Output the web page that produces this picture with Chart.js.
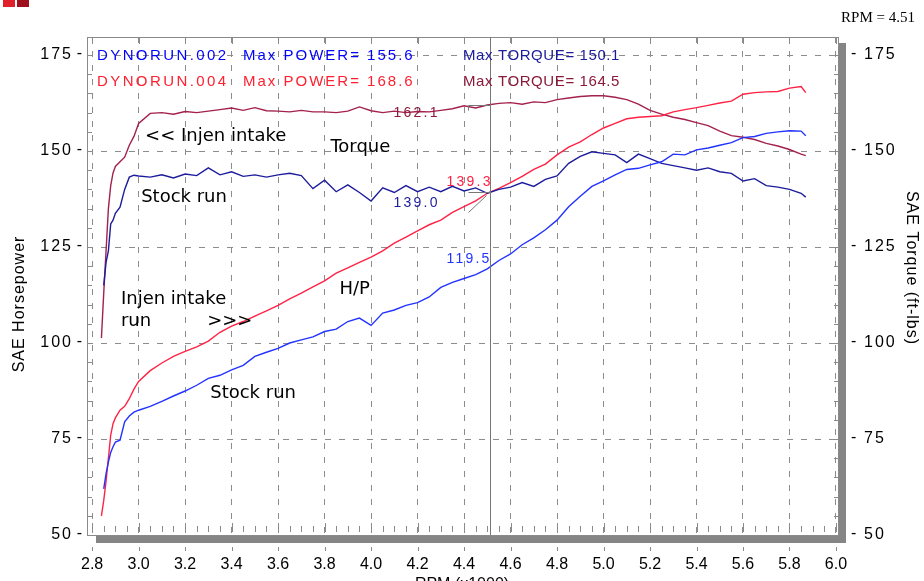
<!DOCTYPE html>
<html>
<head>
<meta charset="utf-8">
<script src="https://cdn.jsdelivr.net/npm/chart.js@4.4.1/dist/chart.umd.min.js"></script>
<style>
html,body{margin:0;padding:0;background:#fff;}
#wrap{width:924px;height:581px;}
</style>
</head>
<body>
<div id="wrap"><canvas id="dyno" width="924" height="581"></canvas></div>
<script>
'use strict';
// rpm x1000
let rpm = [2.84,2.85,2.86,2.87,2.88,2.89,2.90,2.92,2.94,2.96,2.98,
    3.00,3.05,3.10,3.15,3.20,3.25,3.30,3.35,3.40,3.45,3.50,3.55,3.60,3.65,3.70,3.75,3.80,3.85,3.90,3.95,
    4.00,4.05,4.10,4.15,4.20,4.25,4.30,4.35,4.40,4.45,4.50,4.55,4.60,4.65,4.70,4.75,4.80,4.85,4.90,4.95,
    5.00,5.05,5.10,5.15,5.20,5.25,5.30,5.35,5.40,5.45,5.50,5.55,5.60,5.65,5.70,5.75,5.80,5.85,5.87];

// DYNORUN.002 stock run
let stockHp = [null,62,66,69,71.5,73,74.2,74.7,79.5,81,82,
    82.5,83.5,84.8,86.2,87.5,89,90.8,91.6,93,94.2,96.5,97.6,98.6,100,100.8,101.6,103,103.6,105.6,106.5,
    104.6,107.8,108.6,109.8,110.5,112,114.5,115.8,116.8,117.8,119.3,121.5,123.2,125.6,127.4,129.5,132,135.5,138.2,140.8,
    142.2,143.8,145.2,145.5,146.4,147.2,149.2,149,150.3,150.8,151.5,152.2,153.5,153.8,154.6,155,155.3,155.2,154];
let stockTq = [null,115,121,124,131,132,133.8,135.4,140,143.2,143.7,
    143.5,143.2,143.8,143,144,143.6,145.6,143.8,144.6,143.4,143.8,143.2,143.8,144.2,143.6,140.2,142.4,139.4,141.2,139.2,
    137,140.4,139.2,141,139.4,140.6,139.4,140.8,139.6,140.4,139,140,140.6,141.8,140.8,142.6,143.5,146.8,148.6,149.8,
    149.4,149,147,149.2,148,146.8,146.2,145.6,145,145.6,144.6,144.2,142.2,142.8,141,140.6,140,139,138];

// DYNORUN.004 injen intake
let injenHp = [55,59,64,70,76,79,80.5,82.5,83.5,85.5,88,
    90,92.8,94.8,96.5,97.8,99,100.5,102.8,104.4,105.6,107,108.4,109.8,111.5,113,114.6,116.2,118.2,119.6,121,
    122.4,124,126,127.6,129.2,130.8,132,134,135.5,137,139,140.3,141.8,143.4,145.2,146.6,149,151,152.4,154.3,
    156,157.2,158.4,158.8,159,159.2,160.2,160.8,161.3,161.9,162.5,163,164.8,165.2,165.4,165.5,166.4,166.8,165.2];
let injenTq = [101.3,113,124,135,141,144.3,146,147.2,148.4,151.5,153.8,
    157.2,159.8,160,159.6,160.3,160,160.4,160.8,161.2,160.6,161.3,160.5,160.4,160.2,160.6,160.2,160.2,160,160.4,161.5,
    160.5,160,160.4,160,160.3,160.2,160.6,161,161.8,161.2,162,162.4,162.6,162.2,162.8,162.6,163.4,163.8,164.2,164.4,
    164.4,164,163.4,162.2,160.6,159.6,158.8,158.2,157.4,156.6,155.2,154,153.6,153,152,151.3,150.4,149.2,148.8];

let rpmTicks = [2.8,3.0,3.2,3.4,3.6,3.8,4.0,4.2,4.4,4.6,4.8,5.0,5.2,5.4,5.6,5.8,6.0];
let valueTicks = [50,75,100,125,150,175];
let cursorRpm = 4.51;
let cursorTq = 162.1;
let cursorHp = 139.3;

// text notes placed on the chart (rpm, value)
let notes = [
    ['<< Injen intake', 3.028, 153.9, '#000', 'big'],
    ['Torque', 3.825, 151, '#000', 'big'],
    ['Stock run', 3.011, 138, '#000', 'big'],
    ['Injen intake', 2.924, 111.5, '#000', 'big'],
    ['run', 2.924, 105.7, '#000', 'big'],
    ['>>>', 3.295, 105.7, '#000', 'big'],
    ['H/P', 3.864, 114.1, '#000', 'big'],
    ['Stock run', 3.308, 87, '#000', 'big'],
    ['162.1', 4.097, 159.9, '#8b1a3a', 'num'],
    ['139.0', 4.097, 136.5, '#1c1c9c', 'num'],
    ['139.3', 4.325, 141.9, '#ff2040', 'num'],
    ['119.5', 4.325, 121.9, '#2233ff', 'num']
];

function pts(ys) {
    let out = [];
    for (let i = 0; i < rpm.length; i++) {
        if (ys[i] !== null) out.push({x: rpm[i], y: ys[i]});
    }
    return out;
}

const SANS = '"Liberation Sans", Arial, sans-serif';

let dynoDecor = {
    id: 'dynoDecor',
    beforeDraw(chart) {
        let ctx = chart.ctx;
        ctx.save();
        ctx.fillStyle = '#fff';
        ctx.fillRect(0, 0, chart.width, chart.height);
        ctx.restore();
    },
    afterDraw(chart) {
        let ctx = chart.ctx;
        let a = chart.chartArea;
        let xs = chart.scales.x, ys = chart.scales.y, ys1 = chart.scales.y1;
        ctx.save();
        // shadow
        ctx.fillStyle = '#858585';
        ctx.fillRect(a.right, a.top + 6, 7, a.bottom - a.top + 2);
        ctx.fillRect(a.left + 9, a.bottom + 1, a.right - a.left - 2, 7);
        // frame
        ctx.strokeStyle = '#8a8a8a';
        ctx.lineWidth = 1;
        ctx.strokeRect(a.left + 0.5, a.top + 0.5, a.right - a.left - 1, a.bottom - a.top);
        // minor ticks
        ctx.beginPath();
        for (let v = 2.8; v <= 6.0001; v += 0.05) {
            let px = Math.round(xs.getPixelForValue(v)) + 0.5;
            let major = Math.abs(v * 5 - Math.round(v * 5)) < 0.01;
            ctx.moveTo(px, a.bottom - 3); ctx.lineTo(px, a.bottom - 3 - (major ? 9 : 6));
            if (major) {
                ctx.moveTo(px, a.top); ctx.lineTo(px, a.top + 7);
                ctx.moveTo(px, a.bottom + 12); ctx.lineTo(px, a.bottom + 16);
            }
        }
        for (let v = 55; v <= 175; v += 5) {
            let py = Math.round(ys.getPixelForValue(v)) + 0.5;
            ctx.moveTo(a.left, py); ctx.lineTo(a.left + 5, py);
            ctx.moveTo(a.right - 5, py); ctx.lineTo(a.right, py);
        }
        ctx.stroke();
        // cursor and readout markers
        let cx = Math.round(xs.getPixelForValue(cursorRpm)) + 0.5;
        let tx = Math.round(xs.getPixelForValue(cursorRpm - 0.095)) + 0.5;
        ctx.strokeStyle = '#777';
        ctx.beginPath();
        ctx.moveTo(cx, a.top); ctx.lineTo(cx, a.bottom);
        let ty = Math.round(ys1.getPixelForValue(cursorTq)) + 0.5;
        ctx.moveTo(tx, ty + 5); ctx.lineTo(tx, ty); ctx.lineTo(cx, ty);
        let hy = Math.round(ys.getPixelForValue(cursorHp)) + 0.5;
        ctx.moveTo(tx, hy); ctx.lineTo(cx, hy);
        ctx.moveTo(tx, hy + 20); ctx.lineTo(cx - 4, hy + 3);
        ctx.stroke();
        // y tick labels
        ctx.fillStyle = '#000';
        ctx.font = '16px ' + SANS;
        ctx.textBaseline = 'middle';
        ctx.letterSpacing = '2px';
        ys.ticks.forEach(t => {
            let py = ys.getPixelForValue(t.value);
            ctx.textAlign = 'right';
            ctx.fillText(String(t.value), 73, py);
            ctx.fillText('-', 84, py - 1);
        });
        ys1.ticks.forEach(t => {
            let py = ys1.getPixelForValue(t.value);
            ctx.textAlign = 'left';
            ctx.fillText('-', 851, py - 1);
            ctx.fillText(String(t.value), 864, py);
        });
        // axis titles
        ctx.letterSpacing = '1px';
        ctx.textAlign = 'center';
        ctx.save();
        ctx.translate(20, 304);
        ctx.rotate(-Math.PI / 2);
        ctx.fillText('SAE Horsepower', 0, 0);
        ctx.restore();
        ctx.save();
        ctx.translate(911, 268);
        ctx.rotate(Math.PI / 2);
        ctx.fillText('SAE Torque (ft-lbs)', 0, 0);
        ctx.restore();
        ctx.letterSpacing = '0px';
        ctx.textBaseline = 'top';
        ctx.fillText('RPM (x1000)', 462, 577);
        // legend
        ctx.textBaseline = 'middle';
        ctx.textAlign = 'left';
        ctx.font = '15px ' + SANS;
        let l1 = a.top + 19, l2 = a.top + 45;
        ctx.letterSpacing = '2.4px';
        ctx.fillStyle = '#0000ff';
        ctx.fillText('DYNORUN.002', 97, l1);
        ctx.fillStyle = '#ff2030';
        ctx.fillText('DYNORUN.004', 97, l2);
        ctx.letterSpacing = '2px';
        ctx.fillStyle = '#0000ff';
        ctx.fillText('Max POWER= 155.6', 243, l1);
        ctx.fillStyle = '#ff2030';
        ctx.fillText('Max POWER= 168.6', 243, l2);
        ctx.letterSpacing = '0.6px';
        ctx.fillStyle = '#1c1c9c';
        ctx.fillText('Max TORQUE= 150.1', 463, l1);
        ctx.fillStyle = '#8b1a3a';
        ctx.fillText('Max TORQUE= 164.5', 463, l2);
        // notes
        notes.forEach(n => {
            ctx.fillStyle = n[3];
            if (n[4] === 'big') {
                ctx.font = '18px "DejaVu Sans", Verdana, sans-serif';
                ctx.letterSpacing = '0px';
            } else {
                ctx.font = '14px ' + SANS;
                ctx.letterSpacing = '2.2px';
            }
            ctx.fillText(n[0], xs.getPixelForValue(n[1]), ys.getPixelForValue(n[2]));
        });
        ctx.letterSpacing = '0px';
        // top right readout
        ctx.fillStyle = '#000';
        ctx.font = '15px "Liberation Serif", "Times New Roman", serif';
        ctx.textAlign = 'right';
        ctx.fillText('RPM = 4.51', 915, 18);
        // logo squares
        ctx.fillStyle = '#e0202a';
        ctx.fillRect(3, 0, 12, 7);
        ctx.fillStyle = '#a0101c';
        ctx.fillRect(17, 0, 12, 7);
        ctx.restore();
    }
};

let ctx = document.getElementById('dyno').getContext('2d');
let chart = new Chart(ctx, {
    type: 'line',
    data: {
        datasets: [{
            label: 'Stock H/P',
            data: pts(stockHp),
            yAxisID: 'y',
            borderColor: '#2233ff',
            borderWidth: 1.4
        }, {
            label: 'Stock Torque',
            data: pts(stockTq),
            yAxisID: 'y1',
            borderColor: '#1c1c9c',
            borderWidth: 1.4
        }, {
            label: 'Injen H/P',
            data: pts(injenHp),
            yAxisID: 'y',
            borderColor: '#ff2244',
            borderWidth: 1.4
        }, {
            label: 'Injen Torque',
            data: pts(injenTq),
            yAxisID: 'y1',
            borderColor: '#a3204f',
            borderWidth: 1.4
        }]
    },
    options: {
        responsive: false,
        animation: false,
        devicePixelRatio: 1,
        elements: {point: {radius: 0}, line: {tension: 0}},
        layout: {padding: {top: 37, left: 0, right: 0, bottom: 0}},
        plugins: {legend: {display: false}, tooltip: {enabled: false}},
        scales: {
            x: {
                type: 'linear',
                min: 2.778,
                max: 6.013,
                afterBuildTicks: s => { s.ticks = rpmTicks.map(v => ({value: v})); },
                afterFit: s => { s.height = 46; },
                grid: {color: '#8c8c8c', drawTicks: false},
                border: {display: false, dash: [6, 8]},
                ticks: {
                    color: '#000',
                    font: {family: SANS, size: 16},
                    padding: 20,
                    maxRotation: 0,
                    callback: v => v.toFixed(1)
                }
            },
            y: {
                position: 'left',
                min: 50,
                max: 179.7,
                afterBuildTicks: s => { s.ticks = valueTicks.map(v => ({value: v})); },
                afterFit: s => { s.width = 87; },
                grid: {color: '#8c8c8c', drawTicks: false},
                border: {display: false, dash: [6, 8]},
                ticks: {display: false}
            },
            y1: {
                position: 'right',
                min: 50,
                max: 179.7,
                afterBuildTicks: s => { s.ticks = valueTicks.map(v => ({value: v})); },
                afterFit: s => { s.width = 85; },
                grid: {display: false},
                border: {display: false},
                ticks: {display: false}
            }
        }
    },
    plugins: [dynoDecor]
});
</script>
</body>
</html>
